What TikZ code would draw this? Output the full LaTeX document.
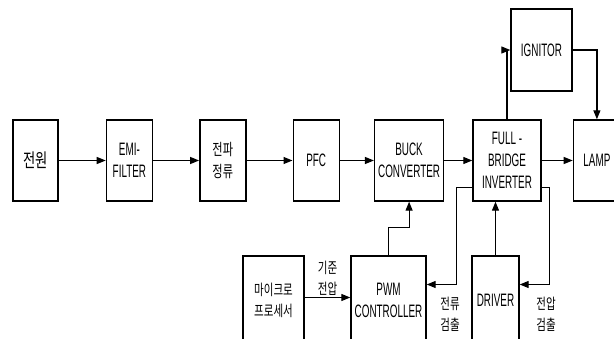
\documentclass[tikz,border=0pt]{standalone}
\usepackage{fontspec}
\setmainfont[FakeStretch=0.55]{Liberation Sans}
\newfontfamily\krfont[FakeStretch=0.7]{Noto Sans CJK KR}
\usepackage{tikz}
\usetikzlibrary{arrows.meta,positioning,calc}

\begin{document}
\begin{tikzpicture}[x=1pt, y=1pt,
  block/.style={rectangle, draw, line width=1.4pt, minimum height=81pt, inner sep=0pt, align=center, font=\fontsize{18}{22}\selectfont},
  lowblock/.style={block, minimum height=89pt},
  kr/.style={font=\krfont\fontsize{16}{22}\selectfont},
  krsmall/.style={font=\krfont\fontsize{15}{21}\selectfont},
  lbl/.style={krsmall, align=center, inner sep=0pt},
  arrow/.style={-{Triangle[length=9pt,width=7pt]}, line width=1.2pt}
]
\useasboundingbox (0,0) rectangle (614,338);
\clip (0,0) rectangle (614,338);

% main power chain
\node[block, font=\krfont\fontsize{19}{22}\selectfont, minimum width=45pt] (pwr) at (35.5,177.5) {전원};
\node[block, minimum width=46pt, right=47pt of pwr] (emi) {EMI-\\FILTER};
\node[block, kr, minimum width=46pt, right=46pt of emi] (rect) {전파\\정류};
\node[block, minimum width=46pt, right=46pt of rect] (pfc) {PFC};
\node[block, minimum width=69pt, right=34pt of pfc] (buck) {BUCK\\CONVERTER};
\node[block, minimum width=68pt, right=28pt of buck] (inv) {FULL -\\BRIDGE\\INVERTER};
\node[block, minimum width=47pt, right=31pt of inv] (lamp) {LAMP};
\node[block, minimum width=61pt, minimum height=82pt] (ign) at (541.5,288) {IGNITOR};

% control part
\node[lowblock, krsmall, minimum width=61pt] (mcu) at (273.5,37.5) {마이크로\\프로세서};
\node[lowblock, minimum width=75pt] (pwm) at (388.5,37.5) {PWM\\CONTROLLER};
\node[lowblock, minimum width=47pt] (drv) at (495.5,37.5) {DRIVER};

\node[lbl] (refv) at (327.5,59.5) {기준\\전압};
\node[lbl] (isen) at (450,24) {전류\\검출};
\node[lbl] (vsen) at (546,24) {전압\\검출};

\draw[arrow] (pwr) -- (emi);
\draw[arrow] (emi) -- (rect);
\draw[arrow] (rect) -- (pfc);
\draw[arrow] (pfc) -- (buck);
\draw[arrow] (buck) -- (inv);
\draw[arrow] (inv) -- (lamp);
\draw[arrow] (inv.north) |- (ign.west);
\draw[arrow] (ign.east) -| (lamp.north);

\draw[arrow] ($(mcu.east)+(0,3)$) -- ($(pwm.west)+(0,3)$);
\draw[arrow] (pwm.north) -- ++(0,28) -| (buck.south);
\draw[arrow] (drv.north) -- (drv.north |- inv.south);
\draw[arrow] ($(inv.south west)+(0,14)$) -- ++(-16,0) |- ($(pwm.east)+(0,16)$);
\draw[arrow] ($(inv.south east)+(0,14)$) -- ++(8,0) |- ($(drv.east)+(0,16)$);
\end{tikzpicture}
\end{document}
